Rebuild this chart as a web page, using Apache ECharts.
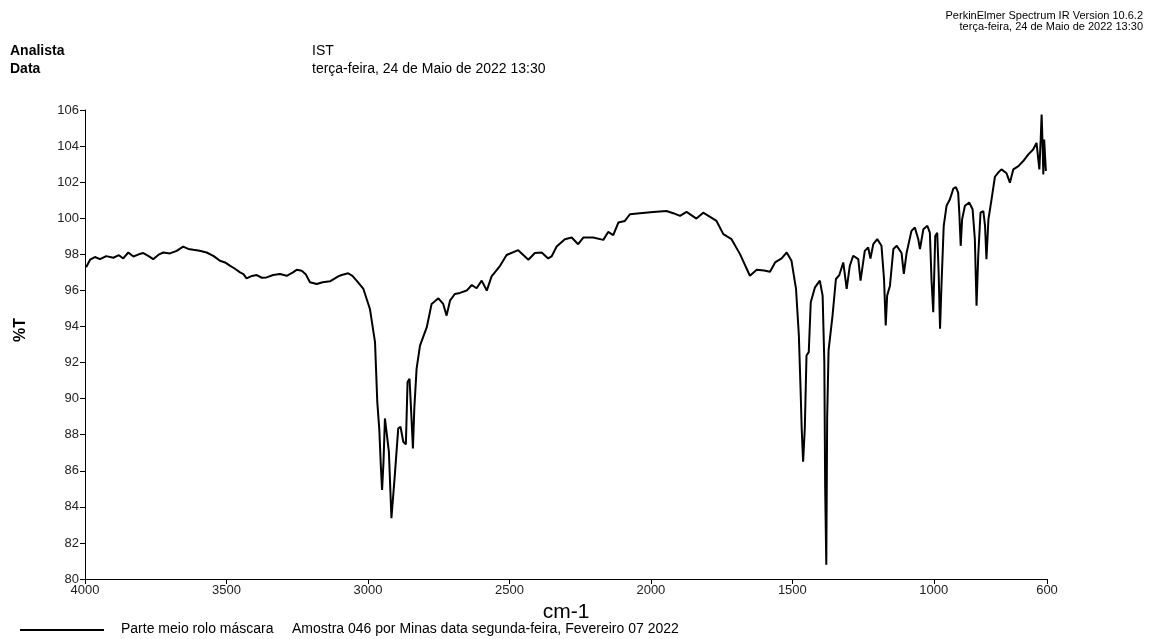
<!DOCTYPE html>
<html>
<head>
<meta charset="utf-8">
<script src="https://cdn.jsdelivr.net/npm/echarts@6/dist/echarts.min.js"></script>
<style>
  html, body { margin: 0; padding: 0; background: #fff; }
  #chart { width: 1161px; height: 639px; }
</style>
</head>
<body>
<div id="chart"></div>
<script>
// IR spectrum: wavenumber (cm-1) and transmittance (%T)
const wavenumbers = [
  3996, 3982, 3965, 3947, 3925, 3900, 3880, 3865, 3847, 3829, 3810, 3794, 3775, 3759, 3740, 3723,
  3700, 3676, 3653, 3635, 3617, 3595, 3570, 3545, 3523, 3505, 3488, 3470, 3452, 3440, 3429, 3410,
  3393, 3375, 3358, 3335, 3311, 3287, 3265, 3252, 3234, 3220, 3205, 3181, 3160, 3134, 3105, 3093,
  3070, 3055, 3040, 3016, 2993, 2975, 2967, 2960, 2954, 2950, 2945, 2940, 2934, 2926, 2917, 2905,
  2893, 2885, 2875, 2866, 2860, 2853, 2850, 2846, 2841, 2836, 2828, 2816, 2792, 2775, 2751, 2734,
  2722, 2710, 2693, 2675, 2651, 2633, 2616, 2598, 2580, 2563, 2533, 2510, 2469, 2433, 2410, 2386,
  2363, 2351, 2333, 2304, 2280, 2257, 2239, 2204, 2168, 2151, 2133, 2115, 2092, 2074, 2039, 1992,
  1945, 1921, 1897, 1874, 1839, 1815, 1768, 1744, 1715, 1685, 1650, 1626, 1600, 1579, 1561, 1538,
  1520, 1503, 1487, 1477, 1471, 1467, 1462, 1456, 1450, 1442, 1435, 1420, 1403, 1393, 1387, 1384,
  1380, 1377, 1372, 1365, 1358, 1346, 1334, 1320, 1308, 1297, 1285, 1267, 1259, 1244, 1232, 1224,
  1214, 1200, 1185, 1176, 1170, 1165, 1155, 1143, 1131, 1114, 1106, 1096, 1079, 1067, 1055, 1049,
  1037, 1023, 1014, 1008, 1002, 995, 988, 983, 978, 973, 965, 955, 943, 931, 922, 914,
  910, 905, 900, 890, 875, 863, 855, 849, 843, 835, 825, 819, 814, 807, 796, 784,
  773, 761, 743, 731, 719, 701, 684, 666, 649, 637, 627, 622, 619, 615, 613, 610,
  604
];
const transmittance = [
  97.28, 97.70, 97.85, 97.73, 97.90, 97.81, 97.95, 97.77, 98.10, 97.88, 98.00, 98.07, 97.90, 97.73, 97.98, 98.10,
  98.05, 98.19, 98.43, 98.30, 98.25, 98.20, 98.10, 97.90, 97.64, 97.55, 97.37, 97.20, 97.00, 96.90, 96.67, 96.80,
  96.85, 96.70, 96.72, 96.85, 96.91, 96.81, 97.00, 97.14, 97.09, 96.90, 96.45, 96.35, 96.45, 96.50, 96.78, 96.85,
  96.95, 96.80, 96.54, 96.08, 94.97, 93.13, 89.82, 88.34, 86.13, 84.93, 86.50, 88.90, 88.99, 87.06, 83.37, 85.76,
  88.34, 88.44, 87.61, 87.46, 90.92, 91.10, 91.00, 88.90, 87.24, 89.50, 91.66, 92.94, 93.96, 95.25, 95.56, 95.25,
  94.60, 95.43, 95.80, 95.86, 95.99, 96.30, 96.12, 96.54, 95.99, 96.78, 97.36, 97.96, 98.23, 97.70, 98.07, 98.10,
  97.77, 97.88, 98.43, 98.84, 98.93, 98.56, 98.93, 98.93, 98.80, 99.24, 99.06, 99.76, 99.85, 100.22, 100.28, 100.35,
  100.40, 100.28, 100.13, 100.35, 99.98, 100.31, 99.85, 99.12, 98.84, 98.01, 96.81, 97.14, 97.10, 97.03, 97.55, 97.77,
  98.10, 97.64, 96.08, 93.50, 90.55, 88.34, 86.50, 88.34, 92.39, 92.58, 95.34, 96.17, 96.54, 95.71, 92.03, 85.03,
  80.79, 88.90, 92.67, 92.58, 94.60, 96.63, 96.85, 97.55, 96.08, 97.36, 97.92, 97.73, 96.54, 98.19, 98.38, 97.77,
  98.56, 98.84, 98.47, 96.63, 94.05, 95.71, 96.26, 98.29, 98.47, 98.07, 96.91, 98.10, 99.30, 99.49, 98.84, 98.29,
  99.39, 99.58, 99.20, 96.54, 94.79, 99.02, 99.20, 97.00, 93.87, 96.26, 99.58, 100.69, 101.05, 101.64, 101.73, 101.42,
  100.31, 98.47, 99.94, 100.69, 100.87, 100.50, 98.84, 95.15, 97.92, 100.31, 100.40, 99.58, 97.73, 99.94, 101.05, 102.30,
  102.52, 102.71, 102.49, 101.97, 102.71, 102.89, 103.17, 103.54, 103.81, 104.18, 102.71, 104.46, 105.75, 103.81, 102.43, 104.36,
  102.62
];

const xTicks = [4000, 3500, 3000, 2500, 2000, 1500, 1000, 600];
const yMin = 80, yMax = 106, yStep = 2;

const headerLabels = ['Analista', 'Data'];
const headerValues = ['IST', 'terça-feira, 24 de Maio de 2022 13:30'];
const softwareLines = ['PerkinElmer Spectrum IR Version 10.6.2', 'terça-feira, 24 de Maio de 2022 13:30'];
const sampleName = 'Parte meio rolo máscara';
const sampleDesc = 'Amostra 046 por Minas data segunda-feira, Fevereiro 07 2022';
const xTitle = 'cm-1';
const yTitle = '%T';

const FONT = '"Liberation Sans", Arial, sans-serif';
const points = wavenumbers.map((w, i) => [w, transmittance[i]]);

const chart = echarts.init(document.getElementById('chart'), null, { renderer: 'canvas' });

const axisCommon = {
  axisLine: { show: true, lineStyle: { color: '#000', width: 1 } },
  axisTick: { show: true, inside: false, length: 5, lineStyle: { color: '#000' } },
  splitLine: { show: false },
  axisLabel: { color: '#222', fontFamily: FONT, fontSize: 13, formatter: v => String(v) }
};

chart.setOption({
  animation: false,
  backgroundColor: '#fff',
  grid: { left: 85, right: 114, top: 110, bottom: 60, containLabel: false },
  xAxis: Object.assign({}, axisCommon, {
    type: 'value',
    inverse: true,
    min: 600,
    max: 4000,
    axisTick: Object.assign({}, axisCommon.axisTick, { customValues: xTicks }),
    axisLabel: Object.assign({}, axisCommon.axisLabel, { customValues: xTicks, margin: 5, showMinLabel: true, showMaxLabel: true }),
    name: xTitle,
    nameLocation: 'middle',
    nameGap: 22,
    nameTextStyle: { fontFamily: FONT, fontSize: 21, color: '#000' }
  }),
  yAxis: Object.assign({}, axisCommon, {
    type: 'value',
    min: yMin,
    max: yMax,
    interval: yStep,
    axisLabel: Object.assign({}, axisCommon.axisLabel, { margin: 6 })
  }),
  series: [{
    type: 'line',
    data: points,
    showSymbol: false,
    symbol: 'none',
    lineStyle: { color: '#000', width: 2 },
    clip: true
  }],
  graphic: [
    // run header
    { type: 'text', left: 10, top: 44, style: { text: headerLabels[0], font: 'bold 14px ' + FONT, fill: '#000' } },
    { type: 'text', left: 10, top: 62, style: { text: headerLabels[1], font: 'bold 14px ' + FONT, fill: '#000' } },
    { type: 'text', left: 312, top: 44, style: { text: headerValues[0], font: '14px ' + FONT, fill: '#000' } },
    { type: 'text', left: 312, top: 62, style: { text: headerValues[1], font: '14px ' + FONT, fill: '#000' } },
    { type: 'text', right: 18, top: 10, style: { text: softwareLines[0], font: '11px ' + FONT, fill: '#000' } },
    { type: 'text', right: 18, top: 21, style: { text: softwareLines[1], font: '11px ' + FONT, fill: '#000' } },
    // y axis title, rotated
    { type: 'text', x: 21, y: 330, rotation: Math.PI / 2,
      style: { text: yTitle, font: 'bold 16px ' + FONT, fill: '#000', align: 'center', verticalAlign: 'middle' } },
    // legend row
    { type: 'line', shape: { x1: 20, y1: 630, x2: 104, y2: 630 }, style: { stroke: '#000', lineWidth: 2 } },
    { type: 'text', left: 121, top: 622, style: { text: sampleName, font: '14px ' + FONT, fill: '#000' } },
    { type: 'text', left: 292, top: 622, style: { text: sampleDesc, font: '14px ' + FONT, fill: '#000' } }
  ]
});
</script>
</body>
</html>
